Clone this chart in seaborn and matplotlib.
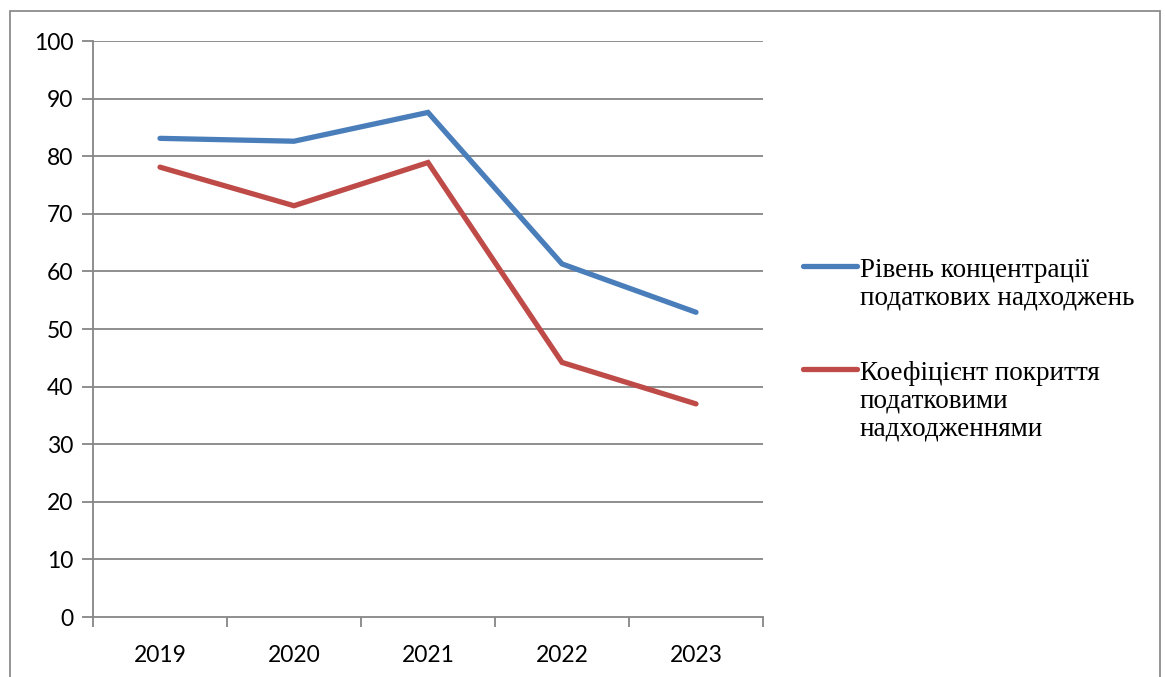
import matplotlib
matplotlib.use("Agg")
import matplotlib.pyplot as plt
from matplotlib.lines import Line2D
from matplotlib.patches import Rectangle
import pandas as pd
import seaborn as sns

years = ["2019", "2020", "2021", "2022", "2023"]
concentration = [83.1, 82.6, 87.6, 61.3, 52.9]
coverage = [78.1, 71.4, 78.9, 44.2, 37.0]
series_names = ["Рівень концентрації\nподаткових надходжень",
                "Коефіцієнт покриття\nподатковими\nнадходженнями"]
colors = ["#4a7ebb", "#be4b48"]

df = pd.DataFrame({
    "year": years * 2,
    "value": concentration + coverage,
    "series": [series_names[0]] * len(years) + [series_names[1]] * len(years),
})

sns.set_theme(style="white")
plt.rcParams["font.family"] = ["Lato", "DejaVu Sans"]

fig = plt.figure(figsize=(11.65, 6.77), dpi=100)
ax = fig.add_axes([93 / 1165, 1 - 617 / 677, (763 - 93) / 1165, (617 - 41) / 677])

sns.lineplot(data=df, x="year", y="value", hue="series", palette=colors,
             linewidth=3.8, sort=False, legend=False, ax=ax,
             solid_capstyle="round", solid_joinstyle="miter")

ax.set_xlim(-0.5, 4.5)
ax.set_ylim(0, 100)
ax.set_yticks(range(0, 101, 10))
ax.set_xticks(range(len(years)))
ax.set_xticklabels(years)
ax.set_xticks([i - 0.5 for i in range(len(years) + 1)], minor=True)
ax.set_xlabel("")
ax.set_ylabel("")

grid_color = "#868686"
for y in range(10, 101, 10):
    ax.axhline(y, color=grid_color, linewidth=1.3, zorder=0)

for side in ["top", "right"]:
    ax.spines[side].set_visible(False)
for side in ["left", "bottom"]:
    ax.spines[side].set_color(grid_color)
    ax.spines[side].set_linewidth(1.3)

ax.tick_params(axis="y", which="major", direction="out", length=8, width=1.3,
               color=grid_color, labelsize=16.5, pad=6, left=True)
ax.tick_params(axis="x", which="major", length=0, labelsize=16.5, pad=20)
ax.tick_params(axis="x", which="minor", direction="out", length=7, width=1.3,
               color=grid_color, bottom=True)
for lab in ax.get_xticklabels() + ax.get_yticklabels():
    lab.set_color("black")

# Legend drawn in figure coordinates
W, H = 1165, 677
legend_entries = [(266, 258), (369, 361)]
for (ly, ty), name, c in zip(legend_entries, series_names, colors):
    fig.add_artist(Line2D([803 / W, 857 / W], [1 - ly / H, 1 - ly / H],
                          color=c, linewidth=3.8, solid_capstyle="round"))
    fig.text(860 / W, 1 - ty / H, name, ha="left", va="top",
             fontsize=19.5, family=["Liberation Serif"], color="black",
             linespacing=1.14)

# Outer chart frame
fig.add_artist(Rectangle((10 / W, -0.05), (1160 - 10) / W, 1 - 11 / H + 0.05,
                         transform=fig.transFigure, fill=False,
                         edgecolor="#8c8c8c", linewidth=1.3))

fig.savefig("out.png", dpi=100)
